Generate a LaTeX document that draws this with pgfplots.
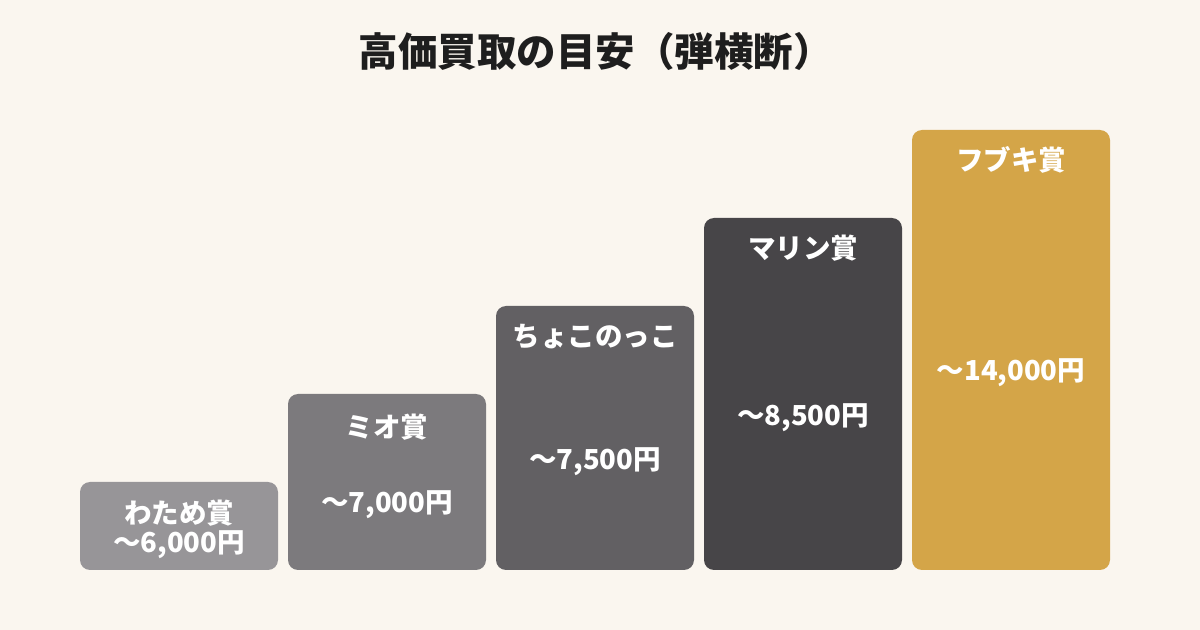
\documentclass[border=0pt]{standalone}
\usepackage{fontspec}
\setmainfont{Noto Sans CJK JP}
\usepackage{pgfplots}
\pgfplotsset{compat=1.18}
\definecolor{bgcol}{HTML}{FAF6EF}
\definecolor{c1}{HTML}{979598}
\definecolor{c2}{HTML}{7C7A7D}
\definecolor{c3}{HTML}{626063}
\definecolor{c4}{HTML}{474548}
\definecolor{c5}{HTML}{D4A548}
\definecolor{titlecol}{HTML}{1E1E1E}
\begin{document}
\begin{tikzpicture}
\fill[bgcol] (0,0) rectangle (1200bp,630bp);
\begin{axis}[
  at={(0,0)}, anchor=south west,
  width=1200bp, height=630bp, scale only axis,
  xmin=0, xmax=1200, ymin=-60, ymax=570,
  hide axis, clip=false,
  ybar, bar width=198, bar shift=0pt,
  every axis plot/.append style={draw=none, rounded corners=10bp},
]
% bar heights (step levels as drawn)
\addplot[fill=c1] coordinates {(179,88)};
\addplot[fill=c2] coordinates {(387,176)};
\addplot[fill=c3] coordinates {(595,264)};
\addplot[fill=c4] coordinates {(803,352)};
\addplot[fill=c5] coordinates {(1011,440)};
\begin{scope}[every node/.style={text=white, font=\bfseries\fontsize{27.5bp}{31bp}\selectfont}]
\node at (axis cs:179,57) {わため賞};
\node at (axis cs:179,25) {～6,000円};
\node at (axis cs:387,143) {ミオ賞};
\node at (axis cs:387,65) {～7,000円};
\node at (axis cs:595,233) {ちょこのっこ};
\node at (axis cs:595,108) {～7,500円};
\node at (axis cs:803,322) {マリン賞};
\node at (axis cs:803,152) {～8,500円};
\node at (axis cs:1011,410) {フブキ賞};
\node at (axis cs:1011,197) {～14,000円};
\end{scope}
\node[text=titlecol, font=\bfseries\fontsize{39.5bp}{45bp}\selectfont] at (axis cs:596,519) {高価買取の目安（弾横断）};
\end{axis}
\end{tikzpicture}
\end{document}
